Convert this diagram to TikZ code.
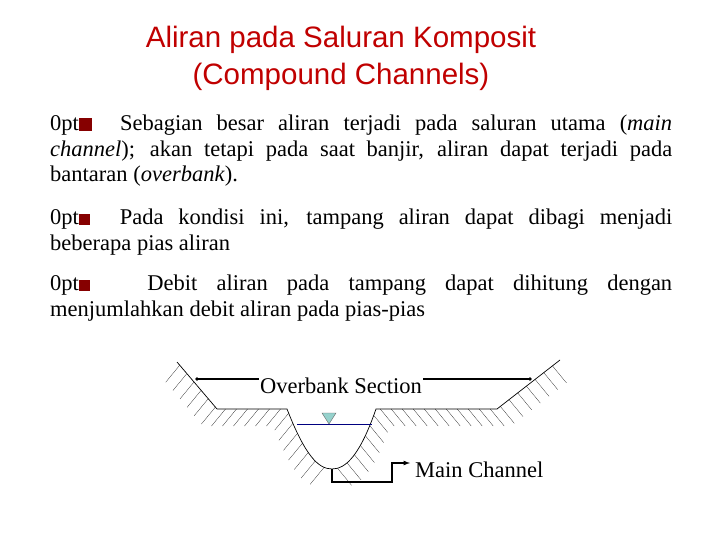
\documentclass[tikz,border=0pt]{standalone}
\usepackage{fontspec}
\setmainfont{Liberation Serif}
\newfontfamily\arialf{Liberation Sans}
\usetikzlibrary{decorations.markings}
\definecolor{titlered}{RGB}{192,0,0}
\definecolor{water}{RGB}{150,210,205}
\begin{document}
\begin{tikzpicture}[x=1pt,y=-1pt,
  body/.style={anchor=north west,text width=622pt,align=justify,inner sep=0pt,font=\fontsize{22.5}{25.5}\selectfont\hyphenpenalty=10000 },
  hatchL/.style={postaction={decorate,decoration={markings,mark=between positions 0.02 and 0.98 step 11pt with {\pgftransformresetnontranslations\draw[very thin] (0,0)--(-14,17);}}}},
  hatchR/.style={postaction={decorate,decoration={markings,mark=between positions 0.02 and 0.98 step 11pt with {\pgftransformresetnontranslations\draw[very thin] (0,0)--(14,17);}}}},
  ground/.style={line width=0.7pt}]
\useasboundingbox (0,0) rectangle (720,540);
\node[font=\arialf\fontsize{29.5}{37}\selectfont,text=titlered,align=center] (title) at (341,58) {Aliran pada Saluran Komposit\\(Compound Channels)};
\node[body] (p1) at (50,115) {{\color{titlered!70!black}\rule{13pt}{13pt}}\ \ Sebagian besar aliran terjadi pada saluran utama (\textit{main}\linebreak \textit{channel}); akan tetapi pada saat banjir, aliran dapat terjadi pada\linebreak bantaran (\textit{overbank}).};
\node[body] (p2) at (50,209) {{\color{titlered!70!black}\rule{11pt}{11pt}}\ \ Pada kondisi ini, tampang aliran dapat dibagi menjadi\linebreak beberapa pias aliran};
\node[body] (p3) at (50,275) {{\color{titlered!70!black}\rule{11pt}{11pt}}\ \ \ Debit aliran pada tampang dapat dihitung dengan\linebreak menjumlahkan debit aliran pada pias-pias};
% ground
\coordinate (a) at (177,362);
\coordinate (b) at (217,409);
\coordinate (c) at (287,409);
\coordinate (bot) at (332,469);
\coordinate (d) at (376,409);
\coordinate (e) at (497,409);
\coordinate (f) at (560,360);
\draw[ground,hatchL] (a)--(b)--(c) .. controls (305,455) and (318,469) .. (bot);
\draw[ground,hatchR] (bot) .. controls (346,469) and (360,455) .. (d)--(e)--(f);
% water
\coordinate (wl) at (297,424);
\coordinate (wr) at (372,424);
\draw[blue!50!black] (wl)--(wr);
\draw[fill=water,draw=black!60] (322,413)--(336,413)--(329,424)--cycle;
% labels
\node[font=\fontsize{22.5}{26}\selectfont,inner sep=1pt] (ob) at (341,386) {Overbank Section};
\draw[line width=1.2pt] (ob.west|-0,379) -- (197,379);
\fill (197,379) circle (1.8pt);
\draw[line width=1.2pt] (ob.east|-0,379) -- (530,379);
\fill (530,379) circle (1.8pt);
\node[font=\fontsize{22.5}{26}\selectfont,anchor=west,inner sep=1pt] (mc) at (414,470) {Main Channel};
\draw[line width=1.2pt,-latex] (bot)--(332,482)--(392,482)--(392,463)--(410,463);
\end{tikzpicture}
\end{document}
